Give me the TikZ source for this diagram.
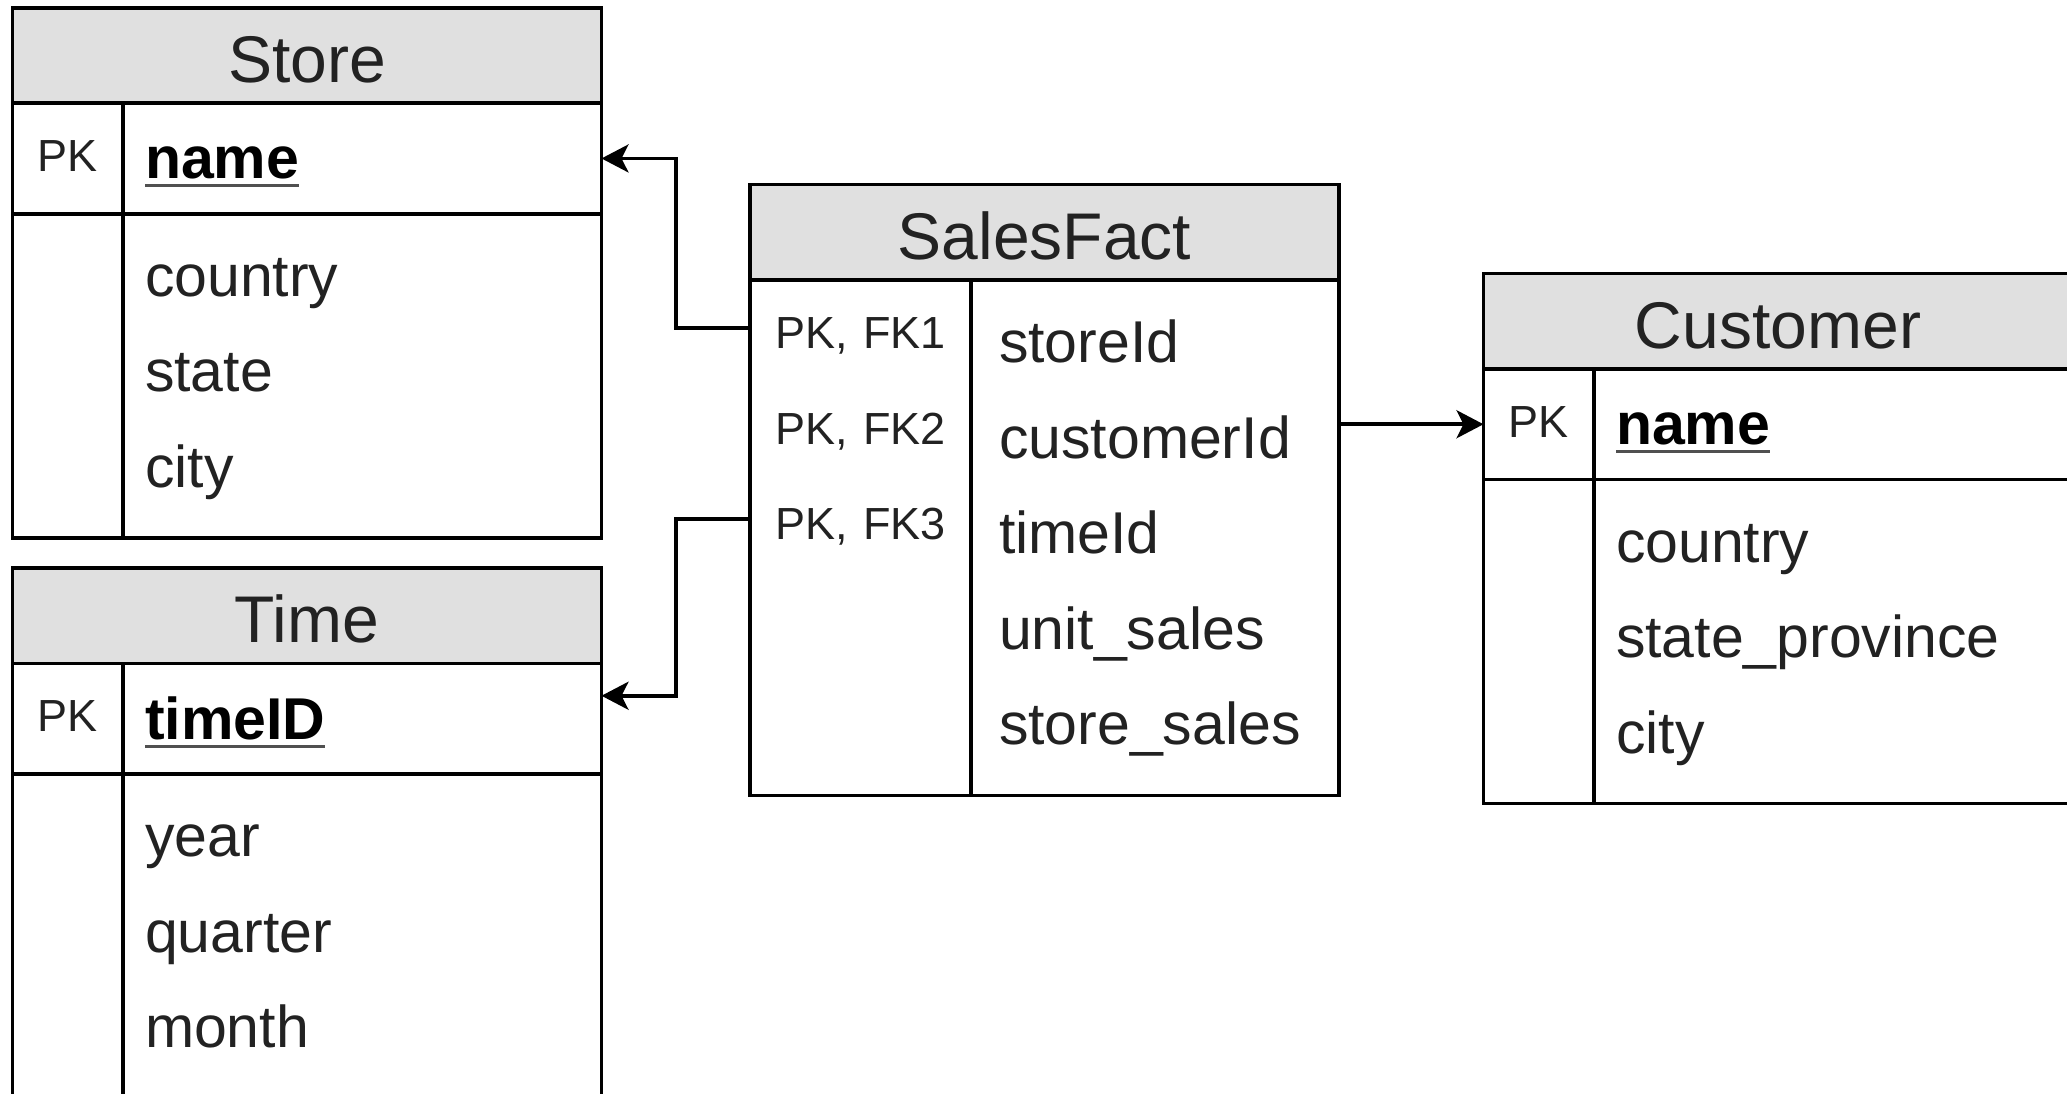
\documentclass[tikz,border=0pt]{standalone}
\usepackage{fontspec}
\setmainfont{Liberation Sans}
\usetikzlibrary{positioning, arrows.meta}
\definecolor{headfill}{HTML}{E0E0E0}
\definecolor{ink}{HTML}{222222}
\definecolor{ulgray}{HTML}{505050}
\newsavebox{\pkbox}
\newcommand{\pkname}[1]{\sbox{\pkbox}{\textbf{\color{black}#1}}\rlap{\color{ulgray}\rule[-8.5pt]{\wd\pkbox}{3pt}}\usebox{\pkbox}}

\begin{document}
\begin{tikzpicture}[x=1pt, y=-1pt,
    every node/.style={inner sep=0pt, outer sep=0pt, line width=3.6pt, text=ink},
    tblhead/.style={draw, fill=headfill, minimum width=589pt, text height=74.5pt, text depth=21pt, font=\fontsize{66}{79}\selectfont},
    keycell/.style={draw, text width=110.5pt, align=center, text height=68pt, text depth=42.5pt, font=\fontsize{45}{95.5}\selectfont},
    fieldcell/.style={draw, inner xsep=22pt, text width=434.5pt, align=left, text height=75.5pt, text depth=35pt, font=\fontsize{59}{95.5}\selectfont},
    fk/.style={line width=3.6pt, -{Stealth[length=27pt, width=28pt, inset=7pt]}}]
    \path[use as bounding box, clip] (0,0) rectangle (2067,1093);
    % Store
    \node[tblhead, anchor=north west] (store) at (12.5,7.7) {Store};
    \node[keycell, below right=0pt and 0pt of store.south west] (storeK) {PK};
    \node[fieldcell, right=0pt of storeK] (storeF) {\pkname{name}};
    \node[keycell, below=0pt of storeK, text height=0pt, text depth=324.5pt] (storeBK) {};
    \node[fieldcell, right=0pt of storeBK, text height=82.5pt, text depth=242pt] (storeBF) {country\\state\\city};
    % Time
    \node[tblhead, anchor=north west] (time) at (12.5,568) {Time};
    \node[keycell, below right=0pt and 0pt of time.south west] (timeK) {PK};
    \node[fieldcell, right=0pt of timeK] (timeF) {\pkname{timeID}};
    \node[keycell, below=0pt of timeK, text height=0pt, text depth=400pt] (timeBK) {};
    \node[fieldcell, right=0pt of timeBK, text height=82.5pt, text depth=317.5pt] (timeBF) {year\\quarter\\month};
    % SalesFact
    \node[tblhead, anchor=north west] (fact) at (750,184.5) {SalesFact};
    \node[keycell, below right=0pt and 0pt of fact.south west, text width=221pt, text height=68.5pt, text depth=447pt] (factK) {PK, FK1\\PK, FK2\\PK, FK3};
    \node[fieldcell, right=0pt of factK, inner xsep=28pt, text width=312pt, text height=82.5pt, text depth=433pt] (factF) {storeId\\customerId\\timeId\\unit\_sales\\store\_sales};
    % Customer
    \node[tblhead, anchor=north west] (cust) at (1483.5,273.5) {Customer};
    \node[keycell, below right=0pt and 0pt of cust.south west] (custK) {PK};
    \node[fieldcell, right=0pt of custK] (custF) {\pkname{name}};
    \node[keycell, below=0pt of custK, text height=0pt, text depth=324pt] (custBK) {};
    \node[fieldcell, right=0pt of custBK, text height=82.5pt, text depth=241.5pt] (custBF) {country\\state\_province\\city};
    % foreign keys
    \coordinate[below=47.75pt of factK.north west] (fk1);
    \coordinate[below=238.75pt of factK.north west] (fk3);
    \coordinate[above=23pt of timeF.east] (timeIn);
    \coordinate[right=74.25pt of storeF.east] (bend);
    \foreach \u/\v in {fk1/storeF.east, fk3/timeIn}
        \draw[fk] (\u) -- (\u -| bend) |- (\v);
    \draw[fk] (factF.east |- custK) -- (custK.west);
\end{tikzpicture}
\end{document}
